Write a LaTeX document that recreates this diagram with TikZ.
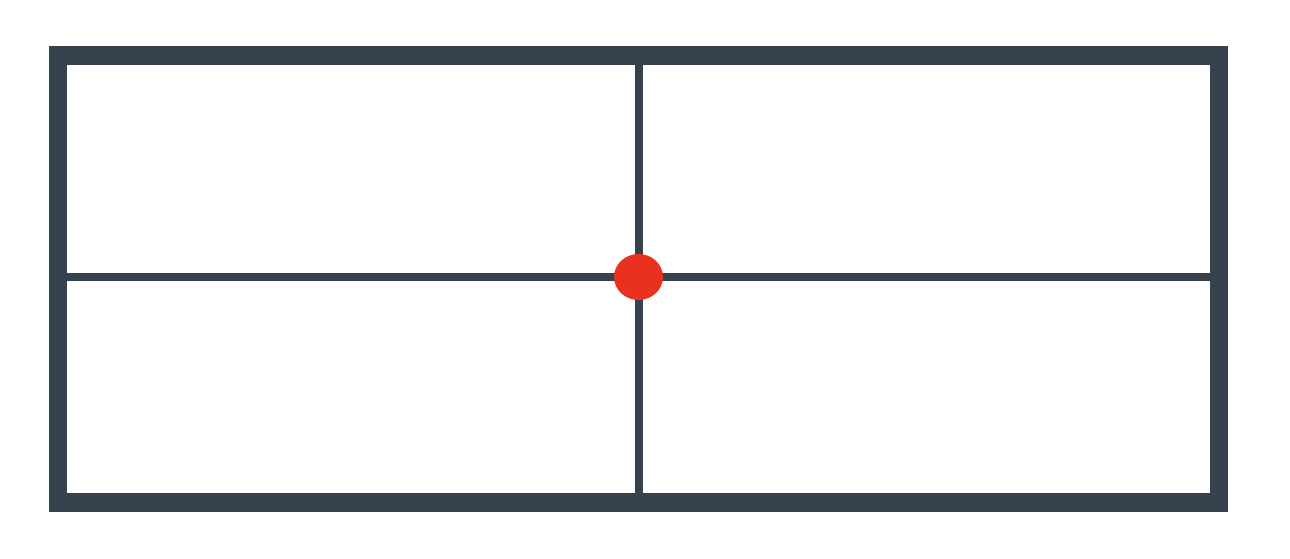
\documentclass[tikz,border=0pt]{standalone}
\usepackage{tikz}
\usetikzlibrary{shapes.geometric}

\definecolor{slate}{HTML}{36434F}
\definecolor{dotred}{HTML}{E8321F}

\begin{document}
\begin{tikzpicture}[x=1pt,y=1pt,
	frame/.style={draw=slate,line width=18.5pt},
	divider/.style={draw=slate,line width=8pt},
	centre/.style={ellipse,fill=dotred,inner sep=0pt,minimum width=49pt,minimum height=46pt}]
\useasboundingbox (0,0) rectangle (1290,558);
\coordinate (sw) at (58,55.5);
\coordinate (ne) at (1219,502.5);
\coordinate (top) at (638.5,502.5);
\coordinate (bot) at (638.5,55.5);
\coordinate (left) at (58,281);
\coordinate (right) at (1219,281);
\draw [divider] (top) -- (bot);
\draw [divider] (left) -- (right);
\draw [frame] (sw) rectangle (ne);
\node [centre] (c) at (638.5,281) {};
\end{tikzpicture}
\end{document}
